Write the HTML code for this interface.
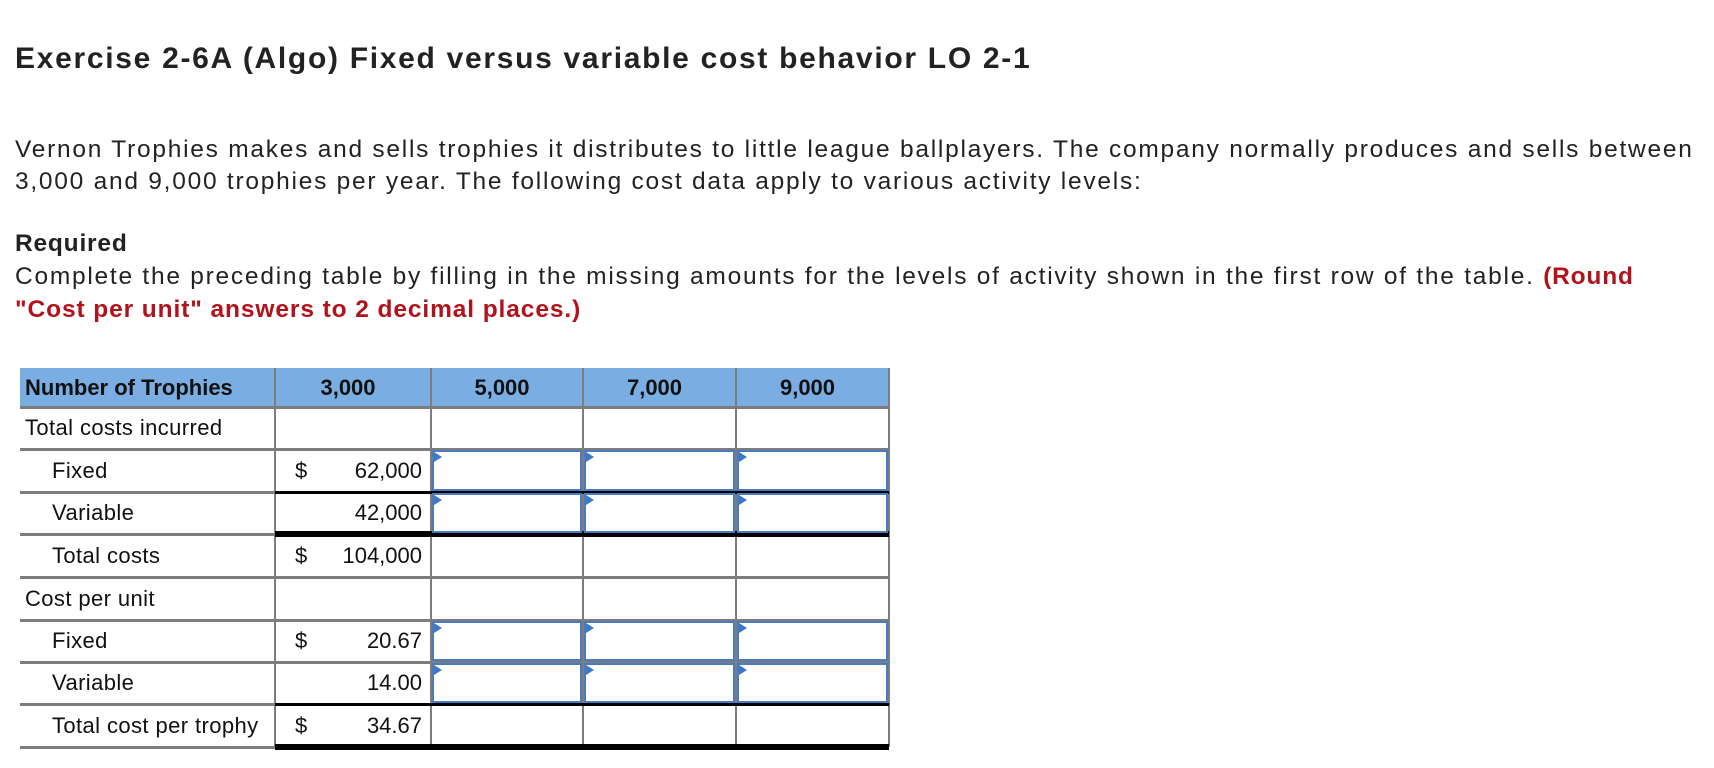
<!DOCTYPE html>
<html><head><meta charset="utf-8"><style>
body{margin:0;width:1714px;height:768px;background:#fff;position:relative;overflow:hidden;font-family:"Liberation Sans",Arial,sans-serif;color:#222}
.t{position:absolute;white-space:nowrap}
.h{left:15px;top:42px;font-size:30px;font-weight:bold;letter-spacing:1.7px}
.p{left:15px;font-size:24.5px;letter-spacing:1.75px}
.red{color:#b0131b;font-weight:bold}
#tbl{position:absolute;left:20px;top:368px;width:869px;height:380px}
.cell{position:absolute;box-sizing:border-box;font-size:22px;letter-spacing:0.4px;color:#111}
.hl{position:absolute;height:3px;background:#7d7d7d}
.vl{position:absolute;width:2px;background:#7d7d7d}
.inp{position:absolute;box-sizing:border-box;border:2px solid #4a7bbf;background:#fff}
.inp:before{content:"";position:absolute;left:0;top:0;border-left:8px solid #3c78c8;border-top:5px solid transparent;border-bottom:5px solid transparent}
.blk{position:absolute;background:#000}
</style></head><body>
<div class="t h">Exercise 2-6A (Algo) Fixed versus variable cost behavior LO 2-1</div>
<div class="t p" style="top:136px">Vernon Trophies makes and sells trophies it distributes to little league ballplayers. The company normally produces and sells between</div>
<div class="t p" style="top:168px">3,000 and 9,000 trophies per year. The following cost data apply to various activity levels:</div>
<div class="t p" style="top:230px;font-weight:bold;letter-spacing:0.8px">Required</div>
<div class="t p" style="top:263px">Complete the preceding table by filling in the missing amounts for the levels of activity shown in the first row of the table. <span class="red" style="letter-spacing:0.8px">(Round</span></div>
<div class="t p red" style="top:296px;letter-spacing:0.9px">"Cost per unit" answers to 2 decimal places.)</div>

<div id="tbl"></div>
<script>
const headers=["Number of Trophies","3,000","5,000","7,000","9,000"];
const rowLabels=["Total costs incurred","Fixed","Variable","Total costs","Cost per unit","Fixed","Variable","Total cost per trophy"];
const indent=[0,1,1,1,0,1,1,1];
const dollar=["","$","","$","","$","","$"];
const values=["","62,000","42,000","104,000","","20.67","14.00","34.67"];
const inputRows=[1,2,5,6];
const colX=[0,255,411,563,716,869];
const rowY=[0,39,81,124,166,209,252,294,336,379];
const T=document.getElementById('tbl');
function add(cls,style,txt){const d=document.createElement('div');d.className=cls;Object.assign(d.style,style);if(txt!==undefined)d.textContent=txt;T.appendChild(d);return d;}
const hb=add('cell',{left:'0px',top:'0px',width:'869px',height:rowY[1]+'px',background:'#7aaee2'});


headers.forEach((h,i)=>{const c=add('cell',{left:colX[i]+'px',top:'0px',width:(colX[i+1]-colX[i])+'px',height:rowY[1]+'px',lineHeight:rowY[1]+'px',fontWeight:'bold',textAlign:i?'center':'left',paddingLeft:i?'0':'5px',paddingRight:i?'10px':'0',letterSpacing:'0px'},h);

});
rowLabels.forEach((l,r)=>{const y=rowY[r+1],h=rowY[r+2]-y;
const c=add('cell',{left:(indent[r]?32:5)+'px',top:y+'px',height:h+'px',lineHeight:h+'px'},l);


if(dollar[r]){const d=add('cell',{left:(colX[1]+20)+'px',top:y+'px',height:h+'px',lineHeight:h+'px'},dollar[r]);

}
if(values[r]){const v=add('cell',{left:colX[1]+'px',top:y+'px',width:(colX[2]-colX[1]-9)+'px',height:h+'px',lineHeight:h+'px',textAlign:'right',letterSpacing:'0px'},values[r]);

}
});
rowY.slice(1).forEach((y,i)=>{const l=add('hl',{left:'0px',top:(y-1)+'px',width:'869px'});

});
colX.slice(1).forEach(x=>{const v=add('vl',{left:(x-1)+'px',top:'0px',height:rowY[9]+'px'});

});
[3,8].forEach(r=>{const b=add('blk',{left:colX[1]+'px',top:(rowY[r]-1)+'px',width:(869-colX[1])+'px',height:'3px'});

});
[4,9].forEach(r=>{const b=add('blk',{left:colX[1]+'px',top:(rowY[r]-3)+'px',width:(869-colX[1])+'px',height:'6px'});

});
inputRows.forEach(r=>{for(let c=2;c<5;c++){const i=add('inp',{left:(colX[c]+1)+'px',top:(rowY[r+1]+1)+'px',width:(colX[c+1]-colX[c]-2)+'px',height:(rowY[r+2]-rowY[r+1]-2)+'px'});

}});
</script>
</body></html>
